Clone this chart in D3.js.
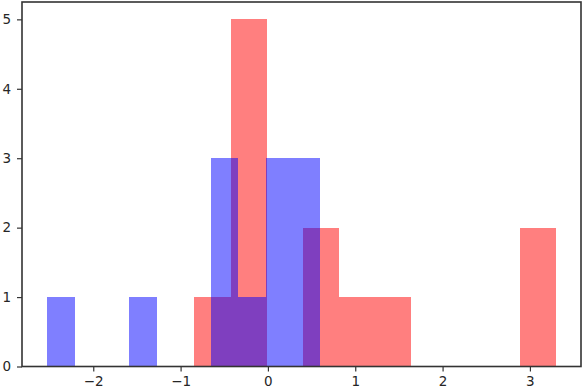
<!DOCTYPE html>
<html lang="en">
<head>
<meta charset="UTF-8">
<title>Overlapping histograms</title>
<style>
  html, body { margin: 0; padding: 0; background: #fff; }
  svg { display: block; }
  .tick text { font-family: 'DejaVu Sans', sans-serif; font-size: 13.5px; fill: #262626; }
</style>
</head>
<body>
<svg id="chart" width="582" height="392"></svg>
<script src="https://d3js.org/d3.v7.min.js"></script>
<script>
// bin edges + counts
const blueEdges = [-2.525, -2.213, -1.900, -1.588, -1.275, -0.963, -0.651, -0.338, -0.026, 0.287, 0.599];
const blueCounts = [1, 0, 0, 1, 0, 0, 3, 1, 3, 3];
const redEdges = [-0.841, -0.428, -0.014, 0.400, 0.813, 1.227, 1.640, 2.054, 2.467, 2.881, 3.294];
const redCounts = [1, 5, 0, 2, 1, 1, 0, 0, 0, 2];
const xTicks = [-2, -1, 0, 1, 2, 3];
const yTicks = [0, 1, 2, 3, 4, 5];

const W = 582, H = 392;
const m = {top: 2, right: 1, bottom: 25.5, left: 22};

const svg = d3.select("#chart");

const x = d3.scaleLinear().domain([-2.816, 3.585]).range([m.left, W - m.right]);
const y = d3.scaleLinear().domain([0, 5.25]).range([H - m.bottom, m.top]);

function bars(edges, counts, color){
  const rows = counts.map((c, i) => ({x0: edges[i], x1: edges[i+1], n: c})).filter(d => d.n > 0);
  // snap to whole pixels so neighbouring bins meet without a seam
  svg.append("g")
    .attr("shape-rendering", "crispEdges")
    .selectAll("rect")
    .data(rows)
    .join("rect")
      .attr("x", d => Math.round(x(d.x0)))
      .attr("width", d => Math.round(x(d.x1)) - Math.round(x(d.x0)))
      .attr("y", d => Math.round(y(d.n)))
      .attr("height", d => Math.round(y(0)) - Math.round(y(d.n)))
      .attr("fill", color)
      .attr("fill-opacity", 0.5);
}

// red underneath, blue on top (overlap comes out blue-ish purple)
bars(redEdges, redCounts, "#ff0000");
bars(blueEdges, blueCounts, "#0000ff");

// axes
const xAxis = svg.append("g")
  .attr("transform", `translate(0,${H - m.bottom})`)
  .call(d3.axisBottom(x).tickValues(xTicks).tickSize(5).tickPadding(5).tickFormat(d3.format("d")));
const yAxis = svg.append("g")
  .attr("transform", `translate(${m.left},0)`)
  .call(d3.axisLeft(y).tickValues(yTicks).tickSize(5).tickPadding(6).tickFormat(d3.format("d")));

[xAxis, yAxis].forEach(g => {
  g.select(".domain").remove();
  g.selectAll(".tick line").attr("stroke", "#333").attr("stroke-width", 1.2);
});

// frame
svg.append("rect")
  .attr("x", m.left).attr("y", m.top)
  .attr("width", W - m.right - m.left)
  .attr("height", H - m.bottom - m.top)
  .attr("fill", "none")
  .attr("stroke", "#333")
  .attr("stroke-width", 1.6);
</script>
</body>
</html>
